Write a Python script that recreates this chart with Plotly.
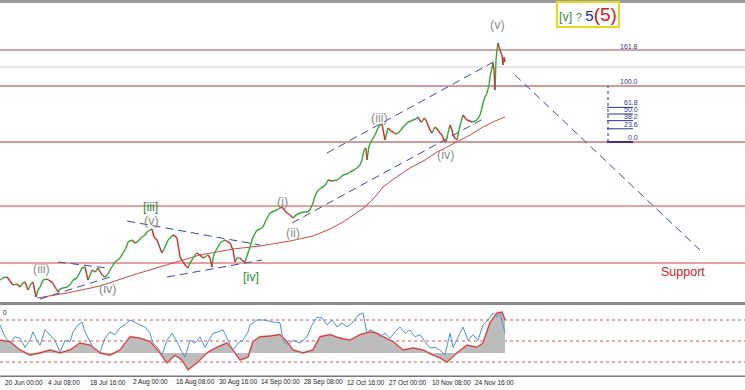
import plotly.graph_objects as go

# ---------------- data ----------------
# time position along the chart (1 unit ~ 1.44 four-hour bars) and price (chart units)
t = [0,3,7,10,13,17,20,23,25,28, 31,33,36,38,40,43,47,50,52,55,
     58,60,63,67,70,73,77,80,82,85, 88,92,95,98,102,105,108,110,113,115,
     118,120,123,126,128,132,135,137,140,142, 145,147,150,152,154,157,160,162,165,168,
     171,173,175,177,180,183,186,188,190,192, 195,197,200,203,205,208,210,212,213,215,
     218,220,223,225,228,230,233,235,237,240, 243,245,248,250,253,257,260,263,266,270,
     274,277,280,282,285,287,290,293,296,300, 304,308,311,313,315,318,321,323,326,328,
     332,337,340,343,347,350,354,357,360,362, 364,366,367,369,372,375,378,380,382,385,
     388,391,393,396,398,401,403,406,408,411, 413,416,418,420,422,424,426,428,430,432,
     435,438,440,442,444,446,448,450,452,453, 455,457,459,461,463,465,467,470,472,475,
     477,480,482,483,485,487,489,490,492,493, 494,495,496,497,498,499,500,501,502,503,
     504,505]
price = [20,22,23,19,15,16,13,17,18,10, 16,18,3,10,13,20,21,19,18,13,
         8,11,12,13,15,20,22,28,32,33, 20,30,28,32,25,23,26,30,35,38,
         40,42,47,52,58,60,57,58,61,63, 65,68,70,71,63,60,52,47,53,60,
         63,65,64,62,43,38,34,32,37,40, 45,47,45,42,43,45,42,33,42,48,
         53,57,59,60,58,57,50,38,42,42, 39,38,47,53,63,70,71,73,80,87,
         89,90,92,93,89,87,85,82,85,87, 88,88,92,97,104,110,112,113,116,120,
         119,120,122,125,126,128,130,132,135,140, 150,152,140,154,160,165,172,175,176,160,
         172,169,168,166,167,170,173,176,178,179, 180,181,183,179,178,182,180,175,170,167,
         173,170,167,165,160,158,167,175,170,165, 162,160,170,178,185,182,180,179,178,179,
         180,185,192,197,203,207,215,223,232,237, 230,210,240,250,257,253,250,247,245,235,
         243,238]

ma_t = [37,67,100,133,173,200,233,260,290,313,330,343,355,365,375,383,395,410,425,437,447,457,470,483,495,505]
ma_p = [2,7,14,25,37,45,51,54,59,64,71,78,86,93,103,113,122,132,140,148,153,158,165,173,179,183]

red_levels = [250, 214, 158, 94, 37]
bid_level = 233

fib_low, fib_high = 158, 214
fib_ratios = [0.0, 23.6, 38.2, 50.0, 61.8, 100.0, 161.8]
fib_x = [607, 633]

# trend lines: (t0, p0, t1, p1)
trend_lines = [
    (58, 38, 107, 32),
    (40, 1, 110, 23),
    (127, 79, 260, 55),
    (167, 23, 262, 40),
    (327, 147, 497, 240),
    (292, 77, 483, 181),
    (515, 225, 700, 50),
]

wave_labels = [
    ("(v)", 497, 275, "#8a8a8a"),
    ("(iii)", 379, 182, "#8a8a8a"),
    ("(iv)", 445, 145, "#8a8a8a"),
    ("(i)", 282, 98, "#8a8a8a"),
    ("(ii)", 293, 67, "#8a8a8a"),
    ("[iii]", 150, 93, "#2e8b3a"),
    ("(v)", 151, 79, "#8a8a8a"),
    ("[iv]", 251, 23, "#2e8b3a"),
    ("(iii)", 41, 31, "#8a8a8a"),
    ("(iv)", 107, 11, "#8a8a8a"),
]

# oscillator
osc_fast_t = [0,5,10,15,20,25,30,33,37,40,45,50,55,60,65,70,73,78,82,85,88,93,100,105,110,115,120,125,130,135,
              140,145,150,153,158,162,167,172,177,182,185,190,195,200,205,208,213,218,223,228,233,238,243,248,
              250,257,265,273,280,283,288,293,300,307,312,317,322,327,332,337,342,347,353,358,363,367,370,375,
              380,385,390,395,400,405,410,415,420,425,430,435,440,445,450,453,458,463,468,473,478,483,488,493,
              497,500,505]
osc_fast = [73,56,47,56,54,41,51,63,51,44,66,59,51,34,51,49,63,73,77,63,54,41,34,54,63,59,69,73,80,76,
            73,70,61,47,40,30,51,61,49,34,27,51,47,56,41,49,61,63,66,51,37,47,51,63,
            73,80,80,77,76,51,44,51,47,56,73,84,83,73,80,70,76,70,77,87,90,61,66,63,
            56,61,54,63,70,61,66,56,59,49,40,41,37,30,61,41,56,70,51,59,51,73,80,90,
            84,90,61]
osc_slow_t = [0,10,20,30,40,50,60,70,80,90,100,110,120,130,140,150,160,167,175,182,188,197,207,217,227,233,240,248,
              253,260,270,280,287,293,303,313,320,330,340,350,360,370,377,383,393,403,413,423,433,440,447,457,467,
              477,483,490,497,502,505]
osc_slow = [51,49,37,30,33,37,33,37,47,44,33,30,37,56,54,49,33,19,30,23,9,19,33,41,47,37,23,27,
            49,56,57,59,49,37,33,37,56,59,54,51,59,63,61,56,49,37,40,37,30,26,20,33,44,
            41,47,76,90,91,80]
osc_base = 33
osc_levels = [80, 50, 20]

tick_labels = ["20 Jun 00:00", "4 Jul 08:00", "18 Jul 16:00", "2 Aug 00:00", "16 Aug 08:00",
               "30 Aug 16:00", "14 Sep 00:00", "28 Sep 08:00", "12 Oct 16:00", "27 Oct 00:00",
               "10 Nov 08:00", "24 Nov 16:00"]
tick_pos = [3, 45.7, 88.4, 131.1, 173.8, 216.5, 259.2, 301.9, 344.6, 387.3, 430, 472.7]

# ---------------- figure ----------------
W, H = 745, 390
FONT = "Liberation Sans, Arial, sans-serif"
fig = go.Figure()

# price coloured by direction
ux, uy, dx, dy = [], [], [], []
for i in range(1, len(t)):
    if price[i] >= price[i - 1]:
        ux += [t[i - 1], t[i], None]; uy += [price[i - 1], price[i], None]
    else:
        dx += [t[i - 1], t[i], None]; dy += [price[i - 1], price[i], None]

# moving average
fig.add_trace(go.Scatter(x=ma_t, y=ma_p, mode="lines", line=dict(color="#d04848", width=1),
                         hoverinfo="skip", showlegend=False))
# trend lines
for (x0, y0, x1, y1) in trend_lines:
    fig.add_trace(go.Scatter(x=[x0, x1], y=[y0, y1], mode="lines",
                             line=dict(color="#3d4a9c", width=1, dash="8px,5px"),
                             hoverinfo="skip", showlegend=False))
fig.add_trace(go.Scatter(x=ux, y=uy, mode="lines", line=dict(color="#35a835", width=1.4),
                         hoverinfo="skip", showlegend=False))
fig.add_trace(go.Scatter(x=dx, y=dy, mode="lines", line=dict(color="#cf3030", width=1.4),
                         hoverinfo="skip", showlegend=False))

# fib retracement
rng = fib_high - fib_low
fib_vals = [fib_low + r / 100.0 * rng for r in fib_ratios]
fig.add_trace(go.Scatter(x=[fib_x[0] + 1, fib_x[0] + 1], y=[fib_low, fib_high], mode="lines",
                         line=dict(color="#2a36a0", width=1, dash="dot"),
                         hoverinfo="skip", showlegend=False))
for r, v in zip(fib_ratios, fib_vals):
    if r < 100:
        fig.add_trace(go.Scatter(x=fib_x, y=[v, v], mode="lines",
                                 line=dict(color="#4a2a90" if r == 0 else "#2a36a0",
                                           width=2 if r == 0 else 1),
                                 hoverinfo="skip", showlegend=False))

# oscillator
fig.add_trace(go.Scatter(x=osc_slow_t, y=[osc_base] * len(osc_slow_t), mode="lines",
                         line=dict(width=0), xaxis="x2", yaxis="y2",
                         hoverinfo="skip", showlegend=False))
fig.add_trace(go.Scatter(x=osc_slow_t, y=osc_slow, mode="lines", line=dict(width=0),
                         fill="tonexty", fillcolor="#bcbcbc", xaxis="x2", yaxis="y2",
                         hoverinfo="skip", showlegend=False))
fig.add_trace(go.Scatter(x=osc_fast_t, y=osc_fast, mode="lines",
                         line=dict(color="#4b93d1", width=1), xaxis="x2", yaxis="y2",
                         hoverinfo="skip", showlegend=False))
fig.add_trace(go.Scatter(x=osc_slow_t, y=osc_slow, mode="lines",
                         line=dict(color="#e8a0a0", width=2.2), xaxis="x2", yaxis="y2",
                         hoverinfo="skip", showlegend=False))
fig.add_trace(go.Scatter(x=osc_slow_t, y=osc_slow, mode="lines",
                         line=dict(color="#b83a3a", width=1), xaxis="x2", yaxis="y2",
                         hoverinfo="skip", showlegend=False))

shapes = []
lvl_style = {250: ("#a84848", 1.2), 214: ("#c07878", 1.6), 158: ("#c07878", 1.6),
             94: ("#d04040", 1), 37: ("#d04040", 1)}
for lv in red_levels:
    c, w = lvl_style[lv]
    shapes.append(dict(type="line", xref="paper", x0=0, x1=1, yref="y", y0=lv, y1=lv,
                       line=dict(color=c, width=w), layer="below"))
shapes.append(dict(type="line", xref="paper", x0=0, x1=1, yref="y", y0=bid_level, y1=bid_level,
                   line=dict(color="#cfcfcf", width=1.2), layer="below"))
for lv in osc_levels:
    shapes.append(dict(type="line", xref="paper", x0=0, x1=1, yref="y2", y0=lv, y1=lv,
                       line=dict(color="#d05858", width=1, dash="dot"), layer="below"))
# frame bands
shapes.append(dict(type="rect", xref="paper", yref="paper", x0=0, x1=1,
                   y0=1 - 3 / H, y1=1, fillcolor="#9a9a9a", line=dict(width=0)))
shapes.append(dict(type="rect", xref="paper", yref="paper", x0=0, x1=1,
                   y0=(H - 305) / H, y1=(H - 302) / H, fillcolor="#8a8a8a", line=dict(width=0)))
shapes.append(dict(type="rect", xref="paper", yref="paper", x0=0, x1=1,
                   y0=(H - 377) / H, y1=(H - 375.5) / H, fillcolor="#7a7a7a", line=dict(width=0)))

ann = []
for txt, x, y, c in wave_labels:
    ann.append(dict(x=x, y=y, xref="x", yref="y", text=txt, showarrow=False,
                    font=dict(family=FONT, size=12.5, color=c)))
ann.append(dict(x=683, y=28, xref="x", yref="y", text="Support", showarrow=False,
                font=dict(family=FONT, size=12.5, color="#d02020")))
box_txt = ('<span style="color:#3a8a3a">[v]</span> '
           '<span style="color:#3a8a3a;font-size:11px">?</span> '
           '<span style="color:#1a2aa0;font-size:15px">5</span>'
           '<span style="color:#d42020;font-size:19px">(5)</span>')
ann.append(dict(x=588, y=285, xref="x", yref="y", text=box_txt, showarrow=False,
                font=dict(family=FONT, size=12.5), bordercolor="#e6d820", borderwidth=2,
                borderpad=1, bgcolor="white"))
for r, v in zip(fib_ratios, fib_vals):
    ann.append(dict(x=640, y=v, xref="x", yref="y", text=f"{r:.1f}", showarrow=False,
                    xanchor="right", yanchor="bottom", yshift=-1,
                    font=dict(family=FONT, size=7, color="#2a36a0")))
for lab, pos in zip(tick_labels, tick_pos):
    ann.append(dict(x=pos, y=(H - 382) / H, xref="x", yref="paper", text=lab, showarrow=False,
                    xanchor="left", yanchor="middle",
                    font=dict(family=FONT, size=6.5, color="#222")))
ann.append(dict(x=1, y=101.4 - 10, xref="x", yref="y2", text="0", showarrow=False,
                xanchor="left", yanchor="middle", font=dict(family=FONT, size=6.5, color="#222")))

fig.update_layout(
    width=W, height=H, margin=dict(l=0, r=0, t=0, b=0),
    paper_bgcolor="white", plot_bgcolor="white", showlegend=False,
    xaxis=dict(range=[0, 745], domain=[0, 1], visible=False, anchor="y"),
    xaxis2=dict(range=[0, 745], domain=[0, 1], visible=False, anchor="y2", matches="x"),
    yaxis=dict(range=[-2, 297], domain=[(H - 302) / H, (H - 3) / H], visible=False),
    yaxis2=dict(range=[0, 101.43], domain=[(H - 376) / H, (H - 305) / H], visible=False),
    shapes=shapes, annotations=ann,
)
fig.write_html("out.html", config={"displayModeBar": False},
               post_script="document.body.style.margin='0';document.body.style.overflow='hidden';")
